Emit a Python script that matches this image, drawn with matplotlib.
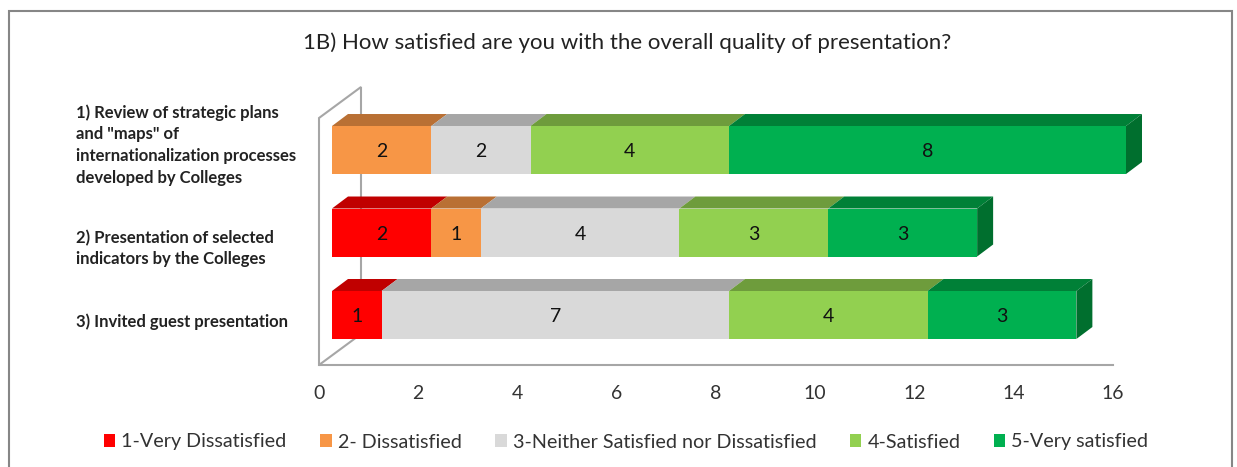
#!/usr/bin/env python3
import matplotlib
matplotlib.use("Agg")
import matplotlib.pyplot as plt
from matplotlib.patches import Patch, Polygon, Rectangle

categories = [
    '1) Review of strategic plans\nand "maps" of\ninternationalization processes\ndeveloped by Colleges',
    '2) Presentation of selected\nindicators by the Colleges',
    '3) Invited guest presentation',
]
series_names = [
    '1-Very Dissatisfied',
    '2- Dissatisfied',
    '3-Neither Satisfied nor Dissatisfied',
    '4-Satisfied',
    '5-Very satisfied',
]
very_dissatisfied = [0, 2, 1]
dissatisfied = [2, 1, 0]
neither = [2, 4, 7]
satisfied = [4, 3, 4]
very_satisfied = [8, 3, 3]
title = '1B) How satisfied are you with the overall quality of presentation?'
xticks = [0, 2, 4, 6, 8, 10, 12, 14, 16]

front_colors = ['#FF0000', '#F79646', '#D9D9D9', '#92D050', '#00B050']
top_colors = ['#C00000', '#B97034', '#A6A6A6', '#6E9C3C', '#008037']
side_colors = ['#A00000', '#A06030', '#909090', '#5F8A35', '#006F2E']

W, H = 1237, 467
plt.rcParams['font.family'] = ['Lato', 'DejaVu Sans']

fig = plt.figure(figsize=(W / 100, H / 100), dpi=100)
ax = fig.add_axes([319 / W, 1 - 365 / H, 794 / W, 247 / H])
ax.set_xlim(0, 16)
ax.set_ylim(2.606, -0.388)
ax.patch.set_alpha(0)
for s in ax.spines.values():
    s.set_visible(False)

# pixel sizes converted to data units
px = 16 / 794
py = 1 / 82.5
bar_h = 48 * py
bar_x0 = 13 * px
dx, dy = 16 * px, -12 * py
wall_dx, wall_dy = 42 * px, -31 * py

# outer frame, bottom edge falls outside the image
fig.add_artist(Rectangle((9 / W, -0.05), 1223 / W, 1.05 - 11 / H, transform=fig.transFigure,
                         fill=False, edgecolor='#868686', linewidth=1.5))

# 3d wall and floor
wall = '#A6A6A6'
y_floor, y_top = 2.606, -0.388
ax.plot([0, 0, wall_dx, wall_dx, 0, 16], [y_floor, y_top, y_top + wall_dy, y_floor + wall_dy, y_floor, y_floor],
        color=wall, lw=1.5, clip_on=False, zorder=1, solid_joinstyle='miter')

all_series = [very_dissatisfied, dissatisfied, neither, satisfied, very_satisfied]
for row in range(len(categories)):
    left = bar_x0
    top = row - bar_h / 2
    bottom = row + bar_h / 2
    last = max(i for i, s in enumerate(all_series) if s[row] > 0)
    for i, s in enumerate(all_series):
        v = s[row]
        if v == 0:
            continue
        right = left + v
        ax.add_patch(Polygon([(left, top), (left + dx, top + dy), (right + dx, top + dy), (right, top)],
                             fc=top_colors[i], ec='none', clip_on=False, zorder=3))
        if i == last:
            ax.add_patch(Polygon([(right, top), (right + dx, top + dy), (right + dx, bottom + dy), (right, bottom)],
                                 fc=side_colors[i], ec='none', clip_on=False, zorder=3))
        ax.add_patch(Rectangle((left, top), v, bar_h, fc=front_colors[i], ec='none', clip_on=False, zorder=4))
        ax.text(left + v / 2, row, str(v), ha='center', va='center_baseline', fontsize=14, color='#111111', zorder=5)
        left = right

ax.set_xticks(xticks)
ax.set_yticks([])
ax.tick_params(axis='x', length=0, pad=14.5, labelsize=14, labelcolor='#333333')

# category labels sit a bit off the bar centres in the original
label_y = [145, 248.5, 322]
for text, y in zip(categories, label_y):
    fig.text(76 / W, 1 - y / H, text, ha='left', va='center', fontsize=12, fontweight='bold',
             color='#222222', linespacing=1.43)

fig.text(627 / W, 1 - 42.5 / H, title, ha='center', va='center', fontsize=16, color='#222222')

handles = [Patch(fc=c, ec='none') for c in front_colors]
fig.legend(handles, series_names, loc='center', bbox_to_anchor=(626 / W, 1 - 442 / H), ncol=5, frameon=False,
           fontsize=14.2, handlelength=0.6, handleheight=0.6, handletextpad=0.3, columnspacing=1.69,
           labelcolor='#333333')

fig.savefig('out.png', dpi=100)
